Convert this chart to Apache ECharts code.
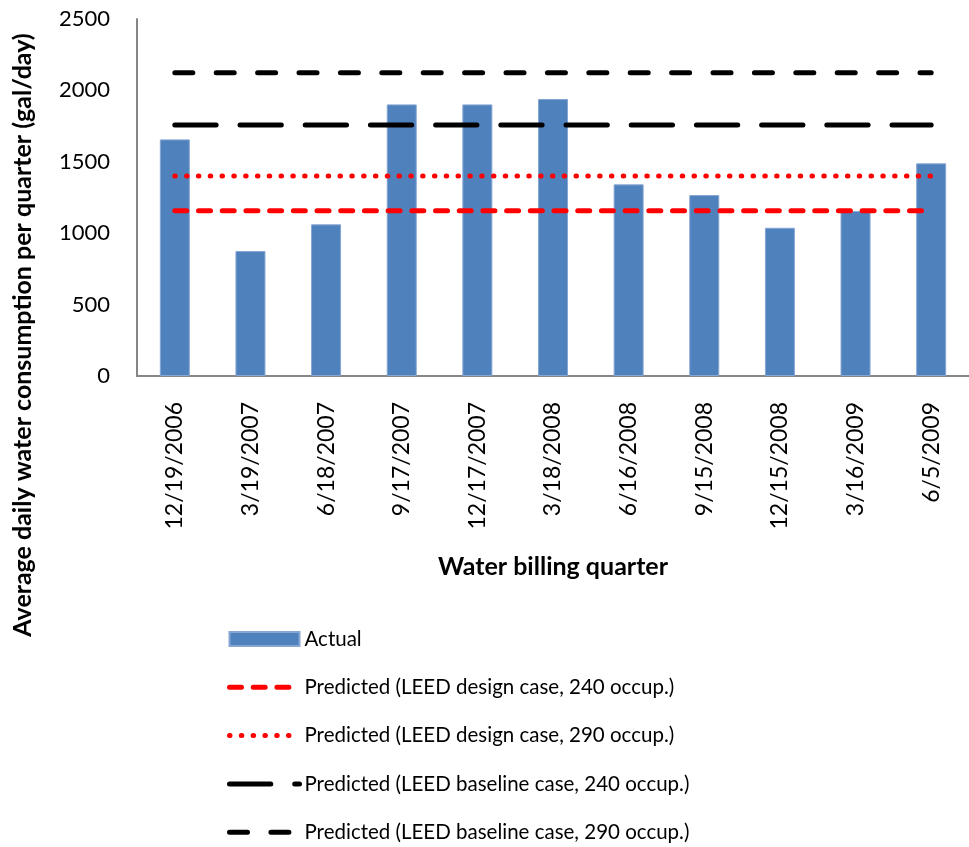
<!DOCTYPE html>
<html>
<head>
<meta charset="utf-8">
<script src="https://cdn.jsdelivr.net/npm/echarts@6/dist/echarts.min.js"></script>
<style>
html,body{margin:0;padding:0;background:#fff;}
#chart{width:969px;height:847px;}
</style>
</head>
<body>
<div id="chart"></div>
<script>
const categories = ['12/19/2006','3/19/2007','6/18/2007','9/17/2007','12/17/2007','3/18/2008','6/16/2008','9/15/2008','12/15/2008','3/16/2009','6/5/2009'];
const actual = [1657, 875, 1062, 1902, 1902, 1940, 1342, 1267, 1038, 1155, 1489];
const designCase240 = 1157;
const designCase290 = 1400;
const baselineCase240 = 1757;
const baselineCase290 = 2124;
const seriesNames = [
  'Actual',
  'Predicted (LEED design case, 240 occup.)',
  'Predicted (LEED design case, 290 occup.)',
  'Predicted (LEED baseline case, 240 occup.)',
  'Predicted (LEED baseline case, 290 occup.)'
];
const yTicks = {min: 0, max: 2500, interval: 500};

const FONT = 'Lato, "Open Sans", sans-serif';
const flat = v => categories.map(() => v);

const styles = [
  null,
  {color: '#FF0000', width: 5, type: [12, 11.7], cap: 'round'},
  {color: '#FF0000', width: 5, type: [0.5, 11.3], cap: 'round'},
  {color: '#000000', width: 5, type: [41.3, 23.9], cap: 'round'},
  {color: '#000000', width: 5, type: [18, 23.4], cap: 'round'}
];

const lineSeries = [designCase240, designCase290, baselineCase240, baselineCase290].map((v, i) => ({
  name: seriesNames[i + 1], type: 'line', data: flat(v), symbol: 'none', showSymbol: false,
  lineStyle: styles[i + 1],
  itemStyle: {color: styles[i + 1].color}
}));

const chart = echarts.init(document.getElementById('chart'), null, {renderer: 'canvas'});
chart.setOption({
  animation: false,
  backgroundColor: '#ffffff',
  grid: {left: 137, top: 19, bottom: 471, right: -12, containLabel: false},
  xAxis: {
    type: 'category',
    data: categories,
    boundaryGap: true,
    axisLine: {lineStyle: {color: '#868686', width: 2}},
    axisTick: {show: false},
    axisLabel: {rotate: 90, color: '#000', fontFamily: FONT, fontSize: 23, margin: 26, interval: 0},
    name: 'Water billing quarter',
    nameLocation: 'middle',
    nameGap: 178,
    nameTextStyle: {color: '#000', fontFamily: FONT, fontSize: 25, fontWeight: 'bold'}
  },
  yAxis: {
    type: 'value',
    min: yTicks.min, max: yTicks.max, interval: yTicks.interval,
    axisLine: {show: true, lineStyle: {color: '#868686', width: 2}},
    axisTick: {show: false},
    splitLine: {show: false},
    axisLabel: {color: '#000', fontFamily: FONT, fontSize: 22, margin: 27, formatter: v => String(v)}
  },
  graphic: [{
    type: 'text',
    x: 23, y: 335,
    rotation: Math.PI / 2,
    style: {
      text: 'Average daily water consumption per quarter (gal/day)',
      fontFamily: FONT, fontSize: 25, fontWeight: 'bold', fill: '#000',
      align: 'center', verticalAlign: 'middle'
    }
  }],
  legend: {
    orient: 'vertical',
    left: 227, top: 627,
    padding: 0,
    height: 240,
    itemWidth: 70, itemHeight: 14,
    itemGap: 24.3,
    textStyle: {color: '#000', fontFamily: FONT, fontSize: 20.5, lineHeight: 24, padding: [0,0,0,0]},
    data: [
      {name: seriesNames[0], icon: 'rect'},
      {name: seriesNames[1], itemStyle: {opacity: 0}, lineStyle: styles[1]},
      {name: seriesNames[2], itemStyle: {opacity: 0}, lineStyle: styles[2]},
      {name: seriesNames[3], itemStyle: {opacity: 0}, lineStyle: styles[3]},
      {name: seriesNames[4], itemStyle: {opacity: 0}, lineStyle: styles[4]}
    ]
  },
  series: [
    {
      name: seriesNames[0], type: 'bar', data: actual, barWidth: 30,
      itemStyle: {color: '#4F81BD', borderColor: '#86a6d3', borderWidth: 1}
    }
  ].concat(lineSeries)
});
</script>
</body>
</html>
